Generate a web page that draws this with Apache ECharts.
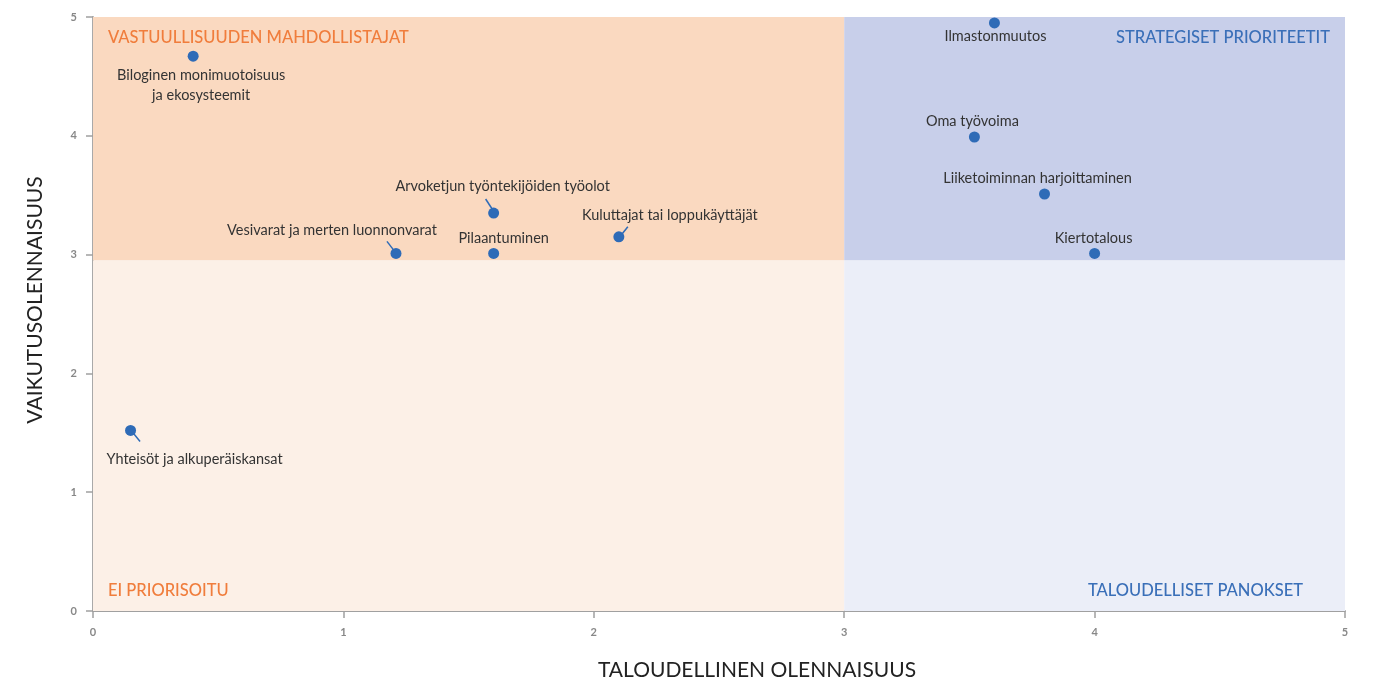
<!DOCTYPE html>
<html><head><meta charset="utf-8">
<script src="https://cdn.jsdelivr.net/npm/echarts@6/dist/echarts.min.js"></script>
<style>html,body{margin:0;padding:0;background:#fff}#c{width:1373px;height:683px}</style>
</head><body><div id="c"></div>
<script>
const names = ['Biloginen monimuotoisuus\nja ekosysteemit','Ilmastonmuutos','Oma työvoima','Liiketoiminnan harjoittaminen','Kiertotalous','Arvoketjun työntekijöiden työolot','Vesivarat ja merten luonnonvarat','Pilaantuminen','Kuluttajat tai loppukäyttäjät','Yhteisöt ja alkuperäiskansat'];
const xValues = [0.40, 3.60, 3.52, 3.80, 4.00, 1.60, 1.21, 1.60, 2.10, 0.15];
const yValues = [4.67, 4.95, 3.99, 3.51, 3.01, 3.35, 3.01, 3.01, 3.15, 1.52];
const xThreshold = 3;
const yThreshold = 2.95;
const quadrantTitles = ['VASTUULLISUUDEN MAHDOLLISTAJAT','STRATEGISET PRIORITEETIT','EI PRIORISOITU','TALOUDELLISET PANOKSET'];
const xAxisTitle = 'TALOUDELLINEN OLENNAISUUS';
const yAxisTitle = 'VAIKUTUSOLENNAISUUS';

// label styling (not data): position, pixel shift, leader line (pixel offsets from the dot)
const labelPos = ['bottom','bottom','top','top','top','top','top','top','top','bottom'];
const labelShift = [[8,0],[1,-2],[-2,0],[-7,0],[-1,0],[9,-11],[-64,-8],[10,0],[51,-6],[64,13]];
const leader = [null,null,null,null,null,[[-8,-14],[-1.5,-4]],[[-9,-12],[-2.5,-3.5]],null,[[9,-10],[3,-2.5]],[[3,3],[9.5,11]]];

const FONT = 'Lato, "Open Sans", sans-serif';
const orange = '#f07d3c', blue = '#3a6fb8', dot = '#2e6bb7';

const data = names.map((n,i)=>({
  name:n, value:[xValues[i], yValues[i]],
  label:{position:labelPos[i], distance: i===0 ? 4 : 0}
}));

function qLabel(text, pos, color, offset){
  return {show:true, position:pos, distance:12, offset:offset, color:color,
    fontSize:16.5, fontFamily:FONT, fontWeight:500, formatter:text};
}

const chart = echarts.init(document.getElementById('c'));
chart.setOption({
  animation:false,
  textStyle:{fontFamily:FONT},
  grid:{left:93, right:28, top:17, bottom:72, containLabel:false, outerBoundsMode:'none'},
  xAxis:{type:'value', min:0, max:5, interval:1,
    name:xAxisTitle, nameLocation:'middle', nameGap:49,
    nameTextStyle:{fontSize:21, color:'#222', fontFamily:FONT, padding:[0,0,0,76]},
    axisLine:{show:true, lineStyle:{color:'#a0a0a0', width:1.8}},
    axisTick:{show:true, length:7, lineStyle:{color:'#a0a0a0', width:1.5}},
    axisLabel:{color:'#888', fontSize:11, fontWeight:'bold', margin:16, fontFamily:FONT},
    splitLine:{show:false}},
  yAxis:{type:'value', min:0, max:5, interval:1,
    name:yAxisTitle, nameLocation:'middle', nameGap:47, nameRotate:90,
    nameTextStyle:{fontSize:21, color:'#222', fontFamily:FONT, padding:[0,0,0,28]},
    axisLine:{show:true, lineStyle:{color:'#a0a0a0', width:1.8}},
    axisTick:{show:true, length:7, lineStyle:{color:'#a0a0a0', width:1.5}},
    axisLabel:{color:'#888', fontSize:11, fontWeight:'bold', margin:16, fontFamily:FONT},
    splitLine:{show:false}},
  series:[{
    type:'scatter', symbolSize:11, z:5,
    itemStyle:{color:dot, opacity:1},
    label:{show:true, formatter:'{b}', color:'#333', fontSize:14.5, lineHeight:20, fontFamily:FONT, align:'center'},
    labelLayout:function(p){ const s=labelShift[p.dataIndex]; return {dx:s[0], dy:s[1]}; },
    data:data,
    markArea:{silent:true, z:1, data:[
      [{xAxis:0, yAxis:yThreshold, itemStyle:{color:'#fad9c0'}, label:qLabel(quadrantTitles[0],'insideTopLeft',orange,[3,0])},{xAxis:xThreshold, yAxis:5}],
      [{xAxis:xThreshold, yAxis:yThreshold, itemStyle:{color:'#c8cfea'}, label:qLabel(quadrantTitles[1],'insideTopRight',blue,[-3,0])},{xAxis:5, yAxis:5}],
      [{xAxis:0, yAxis:0, itemStyle:{color:'#fcf0e7'}, label:qLabel(quadrantTitles[2],'insideBottomLeft',orange,[3,0])},{xAxis:xThreshold, yAxis:yThreshold}],
      [{xAxis:xThreshold, yAxis:0, itemStyle:{color:'#ebeef8'}, label:qLabel(quadrantTitles[3],'insideBottomRight',blue,[-30,0])},{xAxis:5, yAxis:yThreshold}]
    ]}
  }]
});

// leader lines anchored to the dots through the chart's own scales
const lines = [];
leader.forEach((l,i)=>{
  if(!l) return;
  const p = chart.convertToPixel({gridIndex:0}, [xValues[i], yValues[i]]);
  lines.push({type:'line', z:10, silent:true,
    shape:{x1:p[0]+l[0][0], y1:p[1]+l[0][1], x2:p[0]+l[1][0], y2:p[1]+l[1][1]},
    style:{stroke:dot, lineWidth:1.5}});
});
chart.setOption({graphic:lines});
</script></body></html>
